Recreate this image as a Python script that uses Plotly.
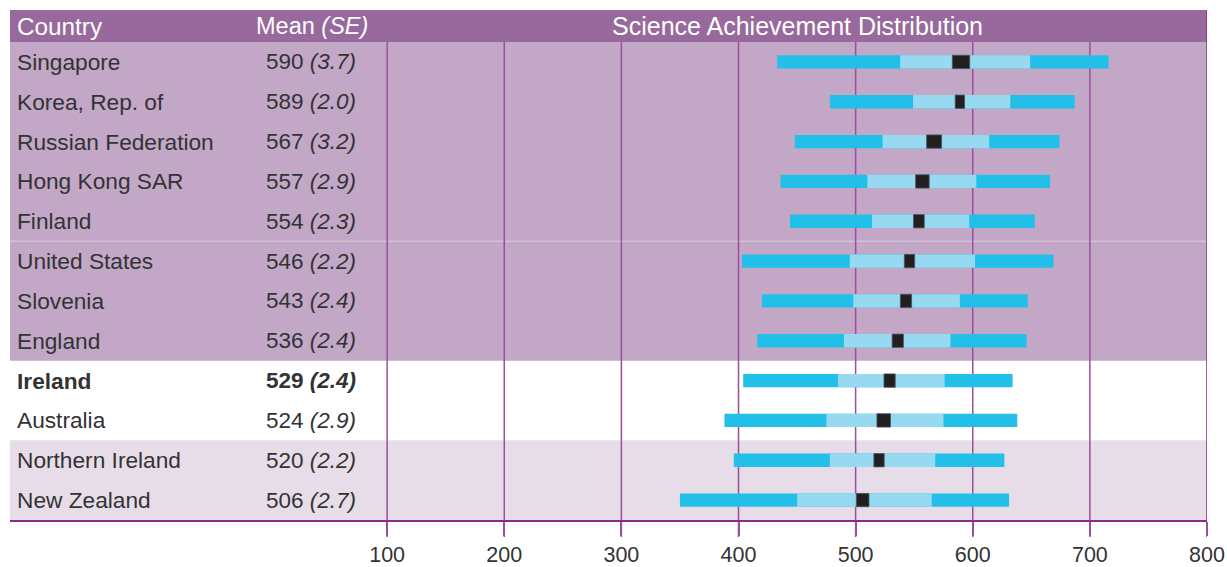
import plotly.graph_objects as go

countries = ["Singapore", "Korea, Rep. of", "Russian Federation", "Hong Kong SAR", "Finland",
             "United States", "Slovenia", "England", "Ireland", "Australia",
             "Northern Ireland", "New Zealand"]
means = [590, 589, 567, 557, 554, 546, 543, 536, 529, 524, 520, 506]
ses = [3.7, 2.0, 3.2, 2.9, 2.3, 2.2, 2.4, 2.4, 2.4, 2.9, 2.2, 2.7]
p5 = [433, 478, 448, 436, 444, 403, 420, 416, 404, 388, 396, 350]
p25 = [538, 549, 523, 510, 514, 495, 498, 490, 485, 475, 478, 450]
p75 = [649, 632, 614, 603, 597, 602, 589, 581, 576, 575, 568, 565]
p95 = [716, 687, 674, 666, 653, 669, 647, 646, 634, 638, 627, 631]
tick_vals = [100, 200, 300, 400, 500, 600, 700, 800]
highlight = "Ireland"

HEADER = "#98699c"
LILAC = "#c2a7c7"
LIGHT = "#e7dde9"
GRID = "#9c4f9e"
AXIS = "#8b2a8b"
DARK = "#22c0e8"
LIGHTC = "#97d9f1"
BLACK = "#231f20"
TXT = "#333333"
FONT = "Liberation Sans, Arial, sans-serif"

W, H = 1227, 567
ML, MR, MT, MB = 10, 20, 10, 47
PW = W - ML - MR
PH = H - MT - MB

n = len(countries)
ys = list(range(n))
head_px = 32
head_top = -0.5 - head_px / ((PH - head_px) / n)

fig = go.Figure()
fig.add_trace(go.Bar(y=ys, x=[b - a for a, b in zip(p5, p95)], base=p5, orientation="h",
                     marker=dict(color=DARK, line=dict(width=0)), width=0.335, hoverinfo="skip"))
fig.add_trace(go.Bar(y=ys, x=[b - a for a, b in zip(p25, p75)], base=p25, orientation="h",
                     marker=dict(color=LIGHTC, line=dict(width=0)), width=0.335, hoverinfo="skip"))
fig.add_trace(go.Bar(y=ys, x=[4 * s for s in ses], base=[m - 2 * s for m, s in zip(means, ses)],
                     orientation="h", marker=dict(color=BLACK, line=dict(width=0.8, color="#4a5560")),
                     width=0.335, hoverinfo="skip"))

shapes = []
shapes.append(dict(type="rect", xref="paper", yref="y", x0=0, x1=1, y0=head_top, y1=-0.5,
                   fillcolor=HEADER, line=dict(width=0), layer="below"))
shapes.append(dict(type="rect", xref="paper", yref="y", x0=0, x1=1, y0=-0.5, y1=7.5,
                   fillcolor=LILAC, line=dict(width=0), layer="below"))
shapes.append(dict(type="rect", xref="paper", yref="y", x0=0, x1=1, y0=9.5, y1=11.5,
                   fillcolor=LIGHT, line=dict(width=0), layer="below"))
shapes.append(dict(type="line", xref="paper", yref="y", x0=0, x1=1, y0=4.5, y1=4.5,
                   line=dict(color="rgba(255,255,255,0.45)", width=1), layer="below"))
# vertical grid lines (with tick extension below the axis)
row_top_paper = 1 - head_px / PH
for v in tick_vals:
    y1 = 1 if v == tick_vals[-1] else row_top_paper
    shapes.append(dict(type="line", xref="x", yref="paper", x0=v, x1=v, y0=-17 / PH, y1=y1,
                       line=dict(color=GRID if v != tick_vals[-1] else AXIS, width=1.5), layer="below"))

annotations = []
hdr_y = (head_top - 0.5) / 2
annotations.append(dict(text="Country", x=5 / PW, y=hdr_y, xref="paper", yref="y",
                        xanchor="left", yanchor="middle", showarrow=False,
                        font=dict(family=FONT, size=24.3, color="white")))
annotations.append(dict(text="Mean <i>(SE)</i>", x=244 / PW, y=hdr_y, xref="paper", yref="y",
                        xanchor="left", yanchor="middle", showarrow=False,
                        font=dict(family=FONT, size=23.5, color="white")))
annotations.append(dict(text="Science Achievement Distribution", x=787.5 / PW, y=hdr_y,
                        xref="paper", yref="y", xanchor="center", yanchor="middle", showarrow=False,
                        font=dict(family=FONT, size=25, color="white")))
for i, (c, m, s) in enumerate(zip(countries, means, ses)):
    name = c
    mtxt = f"{m} <i>({s:.1f})</i>"
    if c == highlight:
        name = f"<b>{c}</b>"
        mtxt = f"<b>{mtxt}</b>"
    annotations.append(dict(text=name, x=5 / PW, y=i, xref="paper", yref="y",
                            xanchor="left", yanchor="middle", showarrow=False,
                            font=dict(family=FONT, size=22.7, color=TXT)))
    annotations.append(dict(text=mtxt, x=348 / PW, y=i, xref="paper", yref="y",
                            xanchor="right", yanchor="middle", showarrow=False,
                            font=dict(family=FONT, size=22.5, color=TXT)))

fig.update_layout(
    width=W, height=H,
    margin=dict(l=ML, r=MR, t=MT, b=MB, autoexpand=False),
    paper_bgcolor="white", plot_bgcolor="white",
    barmode="overlay", showlegend=False,
    shapes=shapes, annotations=annotations,
    xaxis=dict(range=[-222, 800], tickvals=tick_vals, ticktext=[str(v) for v in tick_vals],
               automargin=False,
               showgrid=False, zeroline=False, showline=True, linecolor=AXIS, linewidth=1.5,
               ticks="outside", ticklen=14, tickcolor=GRID, tickwidth=1.5,
               tickfont=dict(family=FONT, size=21.5, color=TXT), fixedrange=True),
    yaxis=dict(range=[11.5, head_top], showticklabels=False, showgrid=False, zeroline=False,
               automargin=False, fixedrange=True),
)

fig.write_html("out.html", config={"displayModeBar": False},
               post_script="document.body.style.margin='0';document.body.style.overflow='hidden';")
